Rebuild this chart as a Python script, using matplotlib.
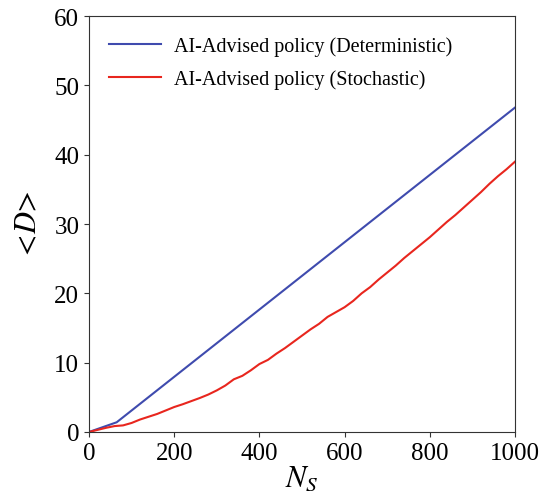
import matplotlib
matplotlib.use("Agg")
import matplotlib.pyplot as plt

plt.rcParams['font.family'] = ['Liberation Serif', 'DejaVu Serif']
plt.rcParams['mathtext.fontset'] = 'stix'

det_x = [0, 65, 1000]
det_y = [0.0, 1.4, 46.8]

sto_x = [0, 20, 40, 60, 80, 100, 120, 140, 160, 180, 200, 220, 240, 260, 280,
         300, 320, 340, 360, 380, 400, 420, 440, 460, 480, 500, 520, 540, 560,
         580, 600, 620, 640, 660, 680, 700, 720, 740, 760, 780, 800, 820, 840,
         860, 880, 900, 920, 940, 960, 980, 1000]
sto_y = [0.0, 0.3, 0.6, 0.85, 0.95, 1.3, 1.8, 2.2, 2.6, 3.1, 3.6, 4.0, 4.45,
         4.9, 5.4, 6.0, 6.7, 7.6, 8.1, 8.9, 9.8, 10.4, 11.3, 12.1, 13.0, 13.9,
         14.8, 15.6, 16.6, 17.3, 18.0, 18.9, 20.0, 20.9, 22.0, 23.0, 24.0, 25.1,
         26.1, 27.1, 28.1, 29.2, 30.3, 31.3, 32.4, 33.5, 34.6, 35.8, 36.9, 37.9,
         39.0]

labels = ['AI-Advised policy (Deterministic)', 'AI-Advised policy (Stochastic)']

fig = plt.figure(figsize=(5.44, 5.02), dpi=100)
ax = fig.add_axes([0.1636, 0.1375, 0.9467 - 0.1636, 0.966 - 0.1375])
ax.plot(det_x, det_y, color='#3F4BAE', lw=1.5, label=labels[0])
ax.plot(sto_x, sto_y, color='#E8261E', lw=1.5, label=labels[1])
ax.set_xlim(0, 1000)
ax.set_ylim(0, 60)
ax.set_xticks([0, 200, 400, 600, 800, 1000])
ax.set_yticks([0, 10, 20, 30, 40, 50, 60])
ax.tick_params(labelsize=18, length=3.5, width=0.8, color='#333333')
for s in ax.spines.values():
    s.set_color('#333333')
ax.set_xlabel(r'$N_S$', fontsize=22, labelpad=0)
ax.set_ylabel(r'$<\!D\!>$', fontsize=22, labelpad=8)
ax.legend(loc='upper left', frameon=False, fontsize=14.5, handlelength=2.6,
          handletextpad=0.6, labelspacing=0.65, borderaxespad=0.6)
fig.savefig('out.png', dpi=100)
